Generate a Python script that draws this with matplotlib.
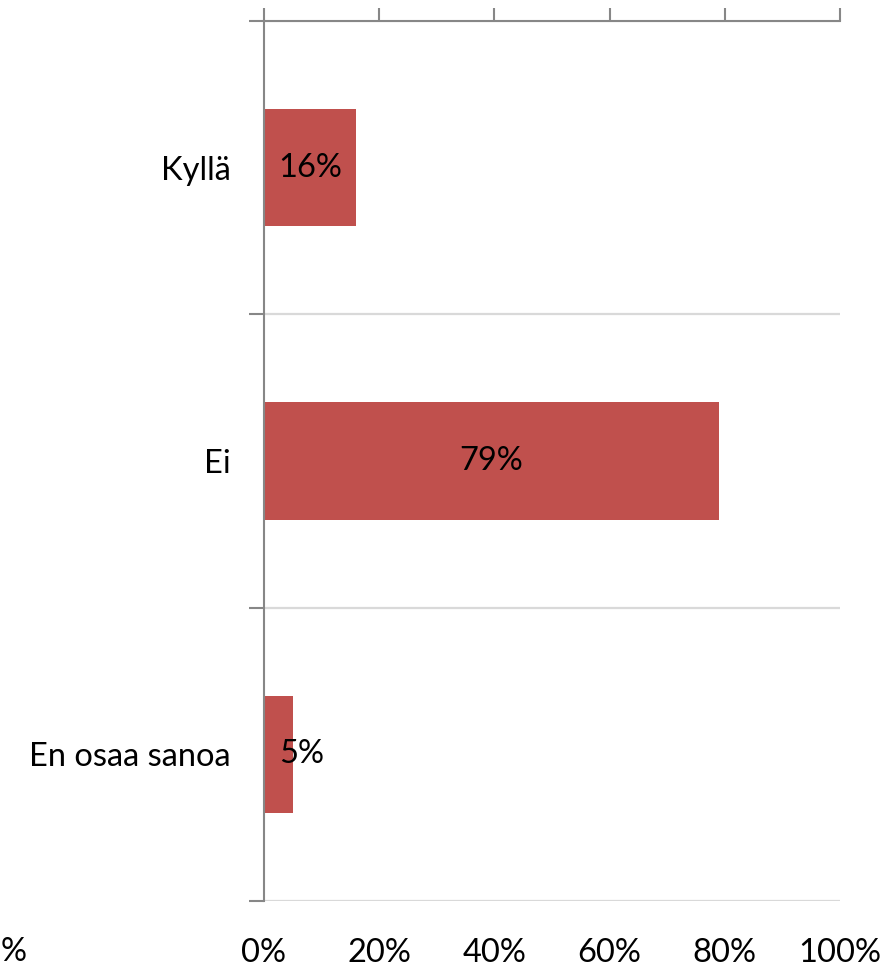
import matplotlib
matplotlib.use("Agg")
import matplotlib.pyplot as plt
from matplotlib.ticker import FixedLocator

categories = ["Kyllä", "Ei", "En osaa sanoa"]
values = [16, 79, 5]
xticks = [0, 20, 40, 60, 80, 100]
xticklabels = ["0%", "20%", "40%", "60%", "80%", "100%"]

FONT = "Lato"
FS = 23.5
AXC = "#878787"
GRIDC = "#D9D9D9"
BARC = "#C0504D"

fig = plt.figure(figsize=(8.86, 9.66), dpi=100)
ax = fig.add_axes([264/886, 1 - 901/966, (840-264)/886, (901-21)/966])

ypos = list(range(len(categories)))
ax.barh(ypos, values, height=0.4, color=BARC, zorder=3)
ax.set_xlim(0, 100)
ax.set_ylim(len(categories) - 0.5, -0.5)

# category labels
ax.set_yticks(ypos)
ax.set_yticklabels(categories, fontsize=FS, family=FONT, color="black")
ax.tick_params(axis="y", which="major", length=0, pad=24)
bounds = [i - 0.5 for i in range(len(categories) + 1)]
ax.yaxis.set_minor_locator(FixedLocator(bounds))
ax.tick_params(axis="y", which="minor", length=11, width=1.5, color=AXC, direction="out")
ax.grid(axis="y", which="minor", color=GRIDC, linewidth=1.6, zorder=0)

# x axis: ticks on top, labels at bottom
ax.set_xticks(xticks)
ax.set_xticklabels(xticklabels, fontsize=FS, family=FONT, color="black")
ax.tick_params(axis="x", which="major", top=True, bottom=False, labeltop=False,
               labelbottom=True, length=9.5, width=1.5, color=AXC, direction="out", pad=17.5)

for s in ["right", "bottom"]:
    ax.spines[s].set_visible(False)
for s in ["top", "left"]:
    ax.spines[s].set_color(AXC)
    ax.spines[s].set_linewidth(1.5)
    ax.spines[s].set_zorder(4)

for y, v in zip(ypos, values):
    label = f"{v}%"
    if v >= 10:
        ax.text(v / 2, y, label, ha="center", va="center", fontsize=FS,
                family=FONT, color="black", zorder=5)
    else:
        ax.annotate(label, xy=(0, y), xytext=(11, 0), textcoords="offset points",
                    ha="left", va="center", fontsize=FS, family=FONT,
                    color="black", zorder=5)

# fragment of a neighbouring chart's label at the far left edge
fig.text(0.5/886, 1 - 952/966, "%", ha="left", va="center", fontsize=FS,
         family=FONT, color="black")

fig.savefig("out.png", dpi=100)
